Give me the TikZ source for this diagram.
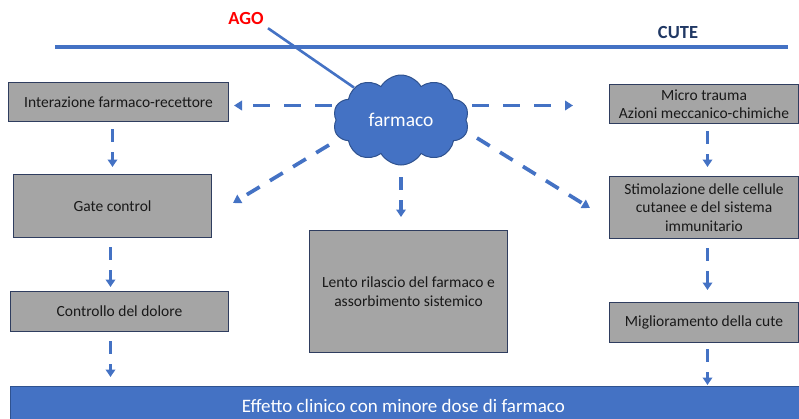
\documentclass[tikz,border=0pt]{standalone}
\usepackage{fontspec}
\setmainfont{Carlito}
\usetikzlibrary{shapes.symbols,arrows.meta,calc}
\definecolor{blu}{HTML}{4472C4}
\definecolor{navy}{HTML}{203864}
\definecolor{grayb}{HTML}{A5A5A5}
\definecolor{bord}{HTML}{2F3D5F}
\definecolor{cloudb}{HTML}{2F528F}
\begin{document}
\begin{tikzpicture}[x=1pt,y=-1pt,
  box/.style={draw=bord, line width=1pt, fill=grayb, font=\fontsize{15.5}{18.5}\selectfont,
    align=center, inner sep=0pt, anchor=north west, text=black!90},
  vdar/.style={draw=blu, line width=3.5pt, dash pattern=on 13pt off 10pt,
    -{Triangle[width=9.5pt,length=7.5pt]}},
  hdar/.style={draw=blu, line width=3.8pt, dash pattern=on 17pt off 14pt,
    -{Triangle[width=9.5pt,length=8pt]}},
  ddar/.style={draw=blu, line width=3.7pt, dash pattern=on 15pt off 12pt,
    -{Triangle[width=9.5pt,length=8pt]}}]
\useasboundingbox (0,0) rectangle (799,418);
% top line and labels
\coordinate (cl) at (55,47);
\coordinate (cr) at (788,47);
\draw[blu, line width=4.5pt] (cl) -- (cr);
\node[font=\bfseries\fontsize{18.5}{20}\selectfont, text=navy] (cute) at (678,32) {CUTE};
\node[font=\bfseries\fontsize{18.5}{20}\selectfont, text=red] (ago) at (246,18) {AGO};
% cloud
\node[cloud, cloud puffs=10, cloud puff arc=120, aspect=1.5, draw=cloudb, fill=blu,
  line width=1pt, minimum width=136pt, minimum height=90pt, inner sep=0pt,
  text=white, font=\fontsize{19.5}{22}\selectfont] (cloud) at (401,120) {farmaco};
\draw[blu, line width=2.6pt, shorten <=1pt] (ago.south east) -- (cloud);
% boxes
\node[box, minimum width=220pt, minimum height=39pt] (b1) at (8,82) {Interazione farmaco-recettore};
\node[box, minimum width=198pt, minimum height=63pt] (b2) at (13,174) {Gate control};
\node[box, minimum width=218pt, minimum height=40pt] (b3) at (10,291) {Controllo del dolore};
\node[box, minimum width=198pt, minimum height=122pt] (b4) at (309,230) {Lento rilascio del farmaco e\\assorbimento sistemico};
\node[box, minimum width=189pt, minimum height=39pt] (b5) at (609,84) {Micro trauma\\Azioni meccanico-chimiche};
\node[box, minimum width=189pt, minimum height=62pt] (b6) at (609,176) {Stimolazione delle cellule\\cutanee e del sistema\\immunitario};
\node[box, minimum width=189pt, minimum height=40pt] (b7) at (609,302) {Miglioramento della cute};
\node[draw=cloudb, line width=0.8pt, fill=blu, anchor=north west, minimum width=800pt,
  minimum height=40pt, inner sep=0pt, text=white, font=\fontsize{19}{22}\selectfont] (bar) at (10,386)
  {\hspace*{-14pt}Effetto clinico con minore dose di farmaco};
% arrows from cloud
\draw[hdar, shorten <=4pt, shorten >=5pt] ([yshift=-3.5pt]b1.east -| cloud.west) -- ([yshift=-3.5pt]b1.east);
\draw[hdar, shorten <=6pt, shorten >=36pt] ([yshift=-1.5pt]b5.west -| cloud.east) -- ([yshift=-1.5pt]b5.west);
\coordinate (s2) at (329,145);
\coordinate (t2) at (233,203);
\draw[ddar] (s2) -- (t2);
\coordinate (s6) at (477,138);
\coordinate (t6) at (590,208);
\draw[ddar] (s6) -- (t6);
\draw[vdar, shorten >=13pt] ([yshift=-57pt]cloud.center) -- (cloud.center |- b4.north);
% vertical arrows
\draw[vdar, shorten <=7pt, shorten >=7pt] (b1.south -| b2.north) -- (b2.north);
\draw[vdar, shorten <=9pt, shorten >=4pt] ([xshift=-2pt]b2.south) -- ([xshift=-2pt]b2.south |- b3.north);
\draw[vdar, shorten <=9pt, shorten >=9pt] ([xshift=-2pt]b2.south |- b3.south) -- ([xshift=-2pt]b2.south |- bar.north);
\draw[vdar, shorten <=7pt, shorten >=9pt] ([xshift=3.5pt]b5.south) -- ([xshift=3.5pt]b6.north);
\draw[vdar, shorten <=9pt, shorten >=12pt] ([xshift=3.5pt]b6.south) -- ([xshift=3.5pt]b6.south |- b7.north);
\draw[vdar, shorten <=6pt, shorten >=1pt] ([xshift=3.5pt]b6.south |- b7.south) -- ([xshift=3.5pt]b6.south |- bar.north);
\end{tikzpicture}
\end{document}
